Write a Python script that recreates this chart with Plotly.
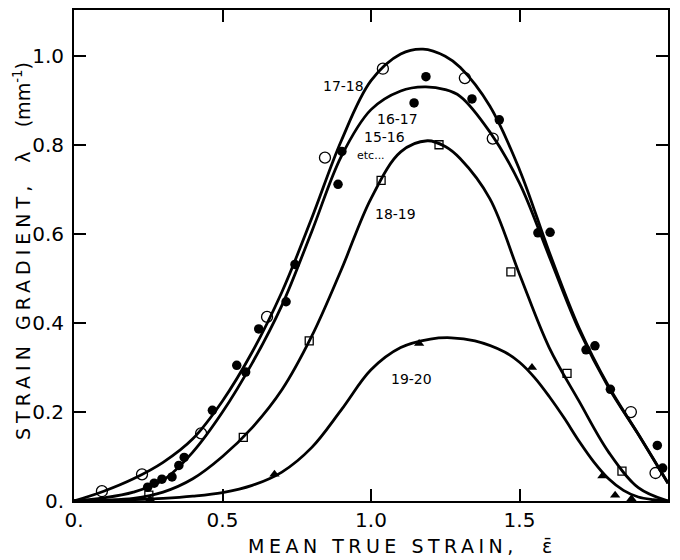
import plotly.graph_objects as go

# ---------------- data ----------------
# fitted curves
curve_a_x = [0, 0.1, 0.2, 0.3, 0.4, 0.5, 0.6, 0.7, 0.8, 0.9, 1.0, 1.1, 1.175, 1.25, 1.3, 1.4, 1.5, 1.6, 1.7, 1.8, 1.9, 2.0]
curve_a_y = [0, 0.022, 0.05, 0.087, 0.14, 0.225, 0.335, 0.47, 0.635, 0.81, 0.945, 1.005, 1.016, 1.0, 0.975, 0.888, 0.745, 0.56, 0.39, 0.258, 0.15, 0.04]

curve_b_x = [0, 0.1, 0.2, 0.3, 0.4, 0.5, 0.6, 0.7, 0.8, 0.9, 1.0, 1.1, 1.18, 1.25, 1.3, 1.4, 1.5, 1.6, 1.7, 1.8, 1.9, 2.0]
curve_b_y = [0, 0.007, 0.02, 0.047, 0.11, 0.2, 0.31, 0.44, 0.605, 0.775, 0.88, 0.922, 0.931, 0.925, 0.91, 0.83, 0.715, 0.55, 0.385, 0.255, 0.15, 0.04]

curve_c_x = [0, 0.1, 0.2, 0.3, 0.4, 0.5, 0.6, 0.7, 0.8, 0.9, 1.0, 1.1, 1.19, 1.25, 1.3, 1.4, 1.5, 1.6, 1.7, 1.8, 1.9, 2.0]
curve_c_y = [0, 0.002, 0.006, 0.02, 0.05, 0.1, 0.165, 0.25, 0.37, 0.52, 0.68, 0.785, 0.81, 0.797, 0.77, 0.68, 0.51, 0.345, 0.225, 0.11, 0.03, 0.0]

curve_d_x = [0, 0.1, 0.2, 0.3, 0.4, 0.5, 0.6, 0.7, 0.8, 0.9, 1.0, 1.1, 1.2, 1.27, 1.35, 1.45, 1.5, 1.55, 1.6, 1.65, 1.7, 1.75, 1.8, 1.85, 1.9, 1.95, 2.0]
curve_d_y = [0, 0.001, 0.003, 0.006, 0.011, 0.019, 0.035, 0.065, 0.12, 0.205, 0.295, 0.345, 0.364, 0.367, 0.36, 0.335, 0.312, 0.278, 0.235, 0.187, 0.135, 0.088, 0.05, 0.024, 0.009, 0.003, 0.0]

# measured points
open_x = [0.094, 0.229, 0.428, 0.65, 0.845, 1.04, 1.316, 1.41, 1.875, 1.958]
open_y = [0.022, 0.06, 0.152, 0.414, 0.772, 0.972, 0.951, 0.815, 0.2, 0.063]

filled_x = [0.248, 0.27, 0.296, 0.33, 0.353, 0.371, 0.466, 0.548, 0.578, 0.622, 0.714, 0.744,
            0.889, 0.902, 1.145, 1.185, 1.34, 1.432, 1.562, 1.603, 1.724, 1.754, 1.806, 1.964, 1.982]
filled_y = [0.031, 0.04, 0.049, 0.054, 0.08, 0.098, 0.204, 0.305, 0.29, 0.387, 0.448, 0.532,
            0.712, 0.786, 0.895, 0.954, 0.904, 0.857, 0.603, 0.604, 0.34, 0.349, 0.251, 0.125, 0.074]

square_x = [0.252, 0.57, 0.792, 1.034, 1.229, 1.471, 1.66, 1.845]
square_y = [0.013, 0.143, 0.36, 0.721, 0.801, 0.515, 0.287, 0.067]

tri_x = [0.256, 0.675, 1.162, 1.542, 1.779, 1.822, 1.877]
tri_y = [0.004, 0.06, 0.354, 0.3, 0.056, 0.013, 0.005]

curve_labels = ["17-18", "16-17", "15-16", "etc...", "18-19", "19-20"]
label_x = [0.906, 1.09, 1.047, 1.0, 1.081, 1.138]
label_y = [0.934, 0.86, 0.819, 0.777, 0.645, 0.275]

x_tickvals = [0, 0.5, 1.0, 1.5, 2.0]
x_ticktext = ["0.", "0.5", "1.0", "1.5", "2.0"]
y_tickvals = [0, 0.2, 0.4, 0.6, 0.8, 1.0]
y_ticktext = ["0.", "0.2", "0.4", "0.6", "0.8", "1.0"]

# ---------------- figure ----------------
fig = go.Figure()
line_style = dict(color="black", width=2.8, shape="spline", smoothing=1.0)
for cx, cy in [(curve_a_x, curve_a_y), (curve_b_x, curve_b_y),
               (curve_c_x, curve_c_y), (curve_d_x, curve_d_y)]:
    fig.add_trace(go.Scatter(x=cx, y=cy, mode="lines", line=line_style,
                             hoverinfo="skip", showlegend=False))

fig.add_trace(go.Scatter(x=open_x, y=open_y, mode="markers", showlegend=False,
                         marker=dict(symbol="circle-open", size=11, color="black",
                                     line=dict(width=1.3, color="black"))))
fig.add_trace(go.Scatter(x=filled_x, y=filled_y, mode="markers", showlegend=False,
                         marker=dict(symbol="circle", size=9.5, color="black")))
fig.add_trace(go.Scatter(x=square_x, y=square_y, mode="markers", showlegend=False,
                         marker=dict(symbol="square-open", size=8, color="black",
                                     line=dict(width=1.3, color="black"))))
fig.add_trace(go.Scatter(x=tri_x, y=tri_y, mode="markers", showlegend=False,
                         marker=dict(symbol="triangle-up", size=9, color="black")))

for t, lx, ly in zip(curve_labels, label_x, label_y):
    fig.add_annotation(x=lx, y=ly, text=t, showarrow=False,
                       font=dict(family="DejaVu Sans", size=14 if t != "etc..." else 11,
                                 color="black"))

axis_common = dict(showline=True, linecolor="black", linewidth=2, mirror="ticks",
                   ticks="inside", ticklen=12, tickwidth=2, tickcolor="black",
                   showgrid=False, zeroline=False,
                   tickfont=dict(family="DejaVu Sans", size=20, color="black"))

fig.update_xaxes(range=[0, 2.0], tickvals=x_tickvals, ticktext=x_ticktext, ticklabelstandoff=0,
                 **axis_common)
fig.update_yaxes(range=[0, 1.104], tickvals=y_tickvals, ticktext=y_ticktext, ticklabelstandoff=4,
                 **axis_common)

# axis titles as annotations (paper coords)
fig.add_annotation(xref="paper", yref="paper", x=(400 - 74) / 594, y=(501 - 546) / 493,
                   xanchor="center", yanchor="middle",
                   text='<span style="letter-spacing:4.5px">MEAN TRUE STRAIN,</span>    \u03b5\u0304',
                   showarrow=False, font=dict(family="DejaVu Sans", size=19, color="black"))
fig.add_annotation(xref="paper", yref="paper", x=(22 - 74) / 594, y=(501 - 250) / 493,
                   xanchor="center", yanchor="middle",
                   text='<span style="letter-spacing:5px">STRAIN GRADIENT,</span>   \u03bb    (mm<sup>-1</sup>)',
                   textangle=-90, showarrow=False,
                   font=dict(family="DejaVu Sans", size=19, color="black"))

fig.update_layout(width=680, height=560, plot_bgcolor="white", paper_bgcolor="white",
                  margin=dict(l=74, r=12, t=8, b=59))

fig.write_html("out.html")
